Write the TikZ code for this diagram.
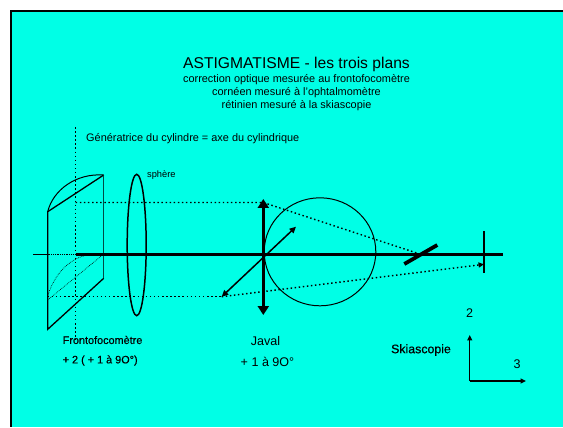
\documentclass[tikz,border=0pt]{standalone}
\usepackage{fontspec}
\setmainfont{Liberation Sans}
\newfontfamily\fakeb[FakeBold=0.5]{Liberation Sans}
\usetikzlibrary{arrows.meta}
\definecolor{bgcyan}{RGB}{0,255,230}
\tikzset{
  x=1bp,y=-1bp,
  lbl/.style={inner sep=0pt,anchor=center,text=black},
  solidl/.style={draw=black,line width=1.3pt},
  thin1/.style={draw=black,line width=1pt},
  thickl/.style={draw=black,line width=2.6pt},
  dots/.style={draw=black,line width=1.4pt,dash pattern=on 1.5pt off 2.6pt},
  fine/.style={draw=black,line width=.6pt,dash pattern=on .8pt off 1pt},
  tip/.style={-{Triangle[length=5.5pt,width=5pt]}},
  bitip/.style={{Triangle[length=6.5pt,width=6pt]}-{Triangle[length=6.5pt,width=6pt]}},
  bigtip/.style={{Triangle[length=9pt,width=11pt]}-{Triangle[length=9pt,width=11pt]}},
}
\begin{document}
\begin{tikzpicture}
\useasboundingbox (0,0) rectangle (563,427);
\fill[white] (0,0) rectangle (563,427);
\fill[black] (10,10) rectangle (563,427);
\fill[bgcyan] (12,12) rectangle (563,427);
% coordinates
\coordinate (vt) at (75.7,127); \coordinate (vb) at (75.7,340);
\coordinate (cTL) at (47.7,211.7); \coordinate (cBL) at (47.7,329.3);
\coordinate (cTR) at (103.7,175); \coordinate (cBR) at (103.7,278.3);
\coordinate (lL) at (47.7,300); \coordinate (lR) at (103.7,254);
\coordinate (axA) at (33,254.3); \coordinate (axB) at (47.7,254.3);
\coordinate (axC) at (75.7,254.3); \coordinate (axD) at (502.7,254.3);
\coordinate (hS) at (75.7,202.5); \coordinate (jT) at (263.3,202.5);
\coordinate (sk) at (416.7,253);
\coordinate (bS) at (47.7,296.7); \coordinate (dB) at (221.7,296.7);
\coordinate (rt) at (484,264.3);
\coordinate (jU) at (263.3,199); \coordinate (jD) at (263.3,315);
\coordinate (dU) at (296,226.7);
\coordinate (m1) at (404.3,264); \coordinate (m2) at (437.3,245);
\coordinate (r1) at (484,231); \coordinate (r2) at (484,272.7);
\coordinate (o) at (469.7,381); \coordinate (oU) at (469.7,335); \coordinate (oR) at (526,381);
% vertical dotted generatrix
\draw[dots] (vt) -- (vb);
% cylinder
\draw[solidl] (cTR) -- (cTL) -- (cBL) -- (cBR);
\draw[draw=black!70!bgcyan,line width=1.2pt] (cTR) -- (cBR);
\draw[thin1] (cTL) .. controls (53,190) and (76,173) .. (cTR);
\draw[fine] (lL) -- (lR);
\draw[fine] (47.7,296) .. controls (55,272) and (72,256) .. (92,254.3);
% axis
\draw[thin1] (axA) -- (axB);
\draw[fine] (axB) -- (axC);
\draw[thickl] (axC) -- (axD);
% lens
\draw[draw=black,line width=1.5pt] (136.7,245) ellipse (9.5 and 70.7);
% rays
\draw[dots] (hS) -- (jT) -- (sk);
\draw[dots] (bS) -- (dB);
\draw[dots,tip] (dB) -- (rt);
% Javal
\draw[draw=black,line width=1pt] (320,251.8) ellipse (55.8 and 54);
\draw[draw=black,line width=3.2pt,bigtip] (jU) -- (jD);
\draw[solidl,line width=1.5pt,bitip] (dB) -- (dU);
% mirror
\draw[draw=black,line width=3.8pt] (m1) -- (m2);
\draw[solidl] (r1) -- (r2);
% axes
\draw[solidl,tip] (o) -- (oU);
\draw[solidl,tip] (o) -- (oR);
% text
\node[lbl,font=\fontsize{15.7}{18}\selectfont] (title) at (296.5,64) {ASTIGMATISME - les trois plans};
\node[lbl,font=\fontsize{10.95}{12}\selectfont] (s1) at (296.5,80) {correction optique mesurée au frontofocomètre};
\node[lbl,font=\fontsize{10.95}{12}\selectfont] (s2) at (296.5,93) {cornéen mesuré à l'ophtalmomètre};
\node[lbl,font=\fontsize{10.95}{12}\selectfont] (s3) at (296.5,105.5) {rétinien mesuré à la skiascopie};
\node[lbl,font=\fontsize{10.95}{12}\selectfont,anchor=west] (gen) at (86,139) {Génératrice du cylindre = axe du cylindrique};
\node[lbl,font=\fontsize{9.3}{10}\selectfont,anchor=west] (sph) at (147,175) {sphère};
\node[lbl,font=\fakeb\fontsize{10.9}{12}\selectfont,anchor=west] (fr) at (62.5,340) {Frontofocomètre};
\node[lbl,font=\fakeb\fontsize{10.9}{12}\selectfont,anchor=west] (fv) at (62.5,360.5) {+ 2 ( + 1 à 9O°)};
\node[lbl,font=\fontsize{12.6}{14}\selectfont] (jv) at (265.5,341) {Javal};
\node[lbl,font=\fontsize{12.6}{14}\selectfont] (jp) at (267.5,362) {+ 1 à 9O°};
\node[lbl,font=\fakeb\fontsize{12.4}{14}\selectfont] (sk2) at (421,350) {Skiascopie};
\node[lbl,font=\fontsize{12.6}{14}\selectfont] (n2) at (469.5,313) {2};
\node[lbl,font=\fontsize{12.6}{14}\selectfont] (n3) at (517,364) {3};
\end{tikzpicture}
\end{document}
